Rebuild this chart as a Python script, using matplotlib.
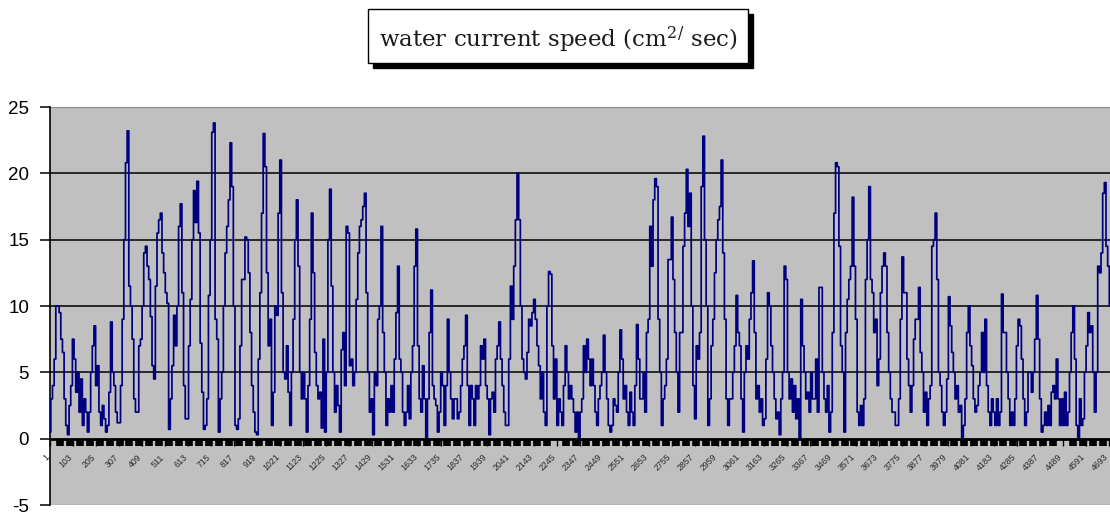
import numpy as np
import matplotlib
matplotlib.use("Agg")
import matplotlib.pyplot as plt
import matplotlib.transforms as mtransforms
from matplotlib.patches import Rectangle
from matplotlib.ticker import FixedLocator, NullFormatter

# ---------------- data (readings taken along the record axis) ----------------
speed_a = [0.5, 3, 4, 6, 10, 10, 9.5, 7.5, 6.5, 3, 1, 0.3, 2.5, 4, 7.5, 6, 3.5, 5, 2, 4.5,
           1, 3, 2, 0.5, 2, 5, 7, 8.5, 4, 5.5, 2, 1, 2.5, 1.5, 0.5, 1, 3.5, 8.8, 5, 4,
           2, 1.2, 1.2, 4, 9, 15, 20.8, 23.2, 11.5, 10, 7.5, 3, 2, 2, 7, 7.5, 10, 14]
speed_b = [14.5, 13, 12, 9.2, 5.5, 4.5, 11.5, 15.5, 16.5, 17, 14, 12.5, 11, 10.2, 0.7, 3,
           5.5, 9.3, 7, 10, 16, 17.7, 11, 4, 1.5, 1.5, 7, 10.5, 15, 18.7, 16.3, 19.4, 15.5,
           7.2, 3.5, 0.7, 1, 3, 10.8, 15, 23.1, 23.8, 9, 7.5, 0.5, 3, 5, 10, 14, 16, 18,
           22.3, 19, 10, 1, 0.7, 1.5, 7, 12]
speed_c = [12, 15.2, 15, 12.5, 8, 4, 2, 0.5, 0.3, 6, 11, 17, 23, 20.5, 12.5, 7, 9, 1, 3.5,
           10, 9.3, 17, 21, 11, 5, 4.5, 7, 3.5, 1, 5, 9, 15, 18, 13, 5, 3, 5, 3, 0.5, 4,
           9, 17, 12.5, 6.5, 4, 3, 3.5, 0.8, 7.5, 0.5, 5, 15, 18.8, 11.5, 5, 2, 4, 2.5, 0.5,
           6.7]
speed_d = [8, 4, 16, 15.5, 5.5, 6, 4, 5, 10.5, 14, 16, 16.5, 17.5, 18.5, 11, 5, 2, 3, 0.3,
           5, 4, 9, 10, 16, 8, 5, 1, 3, 2, 4, 2, 6, 9.5, 13, 6, 5, 2, 1, 2, 4, 1.5, 5, 7,
           13, 15.8, 7, 3, 2, 5.5, 3, 0, 3, 8, 11.2, 4, 3, 2.5, 0.5, 2, 5, 4, 1, 4, 9, 5,
           3, 1.5, 3, 3, 1.5, 2, 4, 6, 7, 9.3, 4, 1, 4, 3, 1, 4, 3, 4, 7, 6, 7.5, 4, 3,
           0.3, 3, 3.5, 2, 6, 7, 8.8, 6, 4, 2, 1, 1, 6, 11.5, 9, 13, 16.5, 20, 16.5, 10, 6,
           5, 4.5, 6.5, 9, 8.5, 9.5, 10.5, 9, 7, 5.5, 3, 5, 2, 1, 10, 12.6, 12.4, 7, 3, 6,
           1, 3, 2, 1, 4, 7, 5, 3]
speed_e = [4, 3, 2, 0.5, 2, 0, 2, 3, 7, 5, 7.5, 6, 4, 6, 4, 2, 1, 3, 4, 5, 7.8, 5, 3, 1,
           0.5, 1, 3, 2.5, 2, 5, 8.2, 6, 3, 4, 2, 1, 3.5, 2, 1, 4, 8.6, 6, 3, 3, 5, 2, 8,
           9, 16, 13, 18, 19.6, 19, 9, 5, 1, 3, 4, 6, 13.5, 13.5, 16.7, 12, 8, 5, 2, 8, 8,
           14.5, 17, 20.3, 16, 18.5, 10, 4, 1.5, 7, 6, 8, 19, 22.8, 15, 10, 1, 3, 7, 9,
           12.5, 15, 16.5, 17.5, 21, 14, 9, 3, 1, 3, 3, 5, 7, 10.8, 8, 7, 3, 0.5, 5, 7, 6,
           9, 11, 13.4, 8, 3, 4, 2, 3, 1, 1.5, 6, 11, 10, 7, 5, 3, 1.5, 2, 0.3, 3, 5, 13,
           12, 5, 3, 4.5, 2, 4, 1.5, 3, 0, 10.5, 7, 5, 3, 3.5, 2, 5, 3, 3, 6, 2, 11.4]
speed_f = [11.4, 5, 3, 2, 4, 0.5, 2, 8, 17, 20.8, 20.5, 14.5, 7, 5, 0.5, 8, 10.5, 12, 13,
           18.2, 13, 9, 2, 1, 2.5, 1, 3, 12, 15, 19, 12, 11, 8, 9, 4, 6, 11, 13, 14, 13, 8,
           5, 3, 2, 2, 1, 1, 3, 9, 13.7, 11, 11, 6, 4, 2, 4, 7.5, 9, 9, 11.4, 6.5, 5, 2,
           3.5, 1, 3, 4, 14.5, 15, 17, 12, 5, 4, 2, 1, 2, 4.5, 10.7, 8.5, 6.5, 5, 3, 4, 2,
           2.5, 0, 1, 3, 8, 10, 7, 5.5, 3, 2, 2.5, 4, 5, 8, 5, 9, 4, 2, 1, 3, 2, 1, 3, 1,
           2, 10.9, 8, 8, 5, 3, 1, 2, 1, 3, 7, 9, 8.5, 6, 3, 1, 2, 5, 5, 3.5, 5, 7.5, 10.8,
           7.5, 3, 0.5, 1, 2, 1, 2.5, 1, 3.5, 4, 3, 6, 3, 1, 3, 1, 3.5, 1, 2, 5, 8, 10, 6,
           1, 0, 3, 1, 1.5, 5, 7, 9.5, 8, 8.5, 5, 2, 5, 13, 12.5, 14, 18.5, 19.3, 14.5, 13,
           10]

SAMPLE_STEP = 7.35                 # records between consecutive readings
tick_records = list(range(1, 4694, 102))
tick_labels = [str(r) for r in tick_records]
y_ticks = [-5, 0, 5, 10, 15, 20, 25]
grid_levels = [5, 10, 15, 20]
title = "water current speed (cm$^{2}$$^{/}$ sec)"

speed = np.array(speed_a + speed_b + speed_c + speed_d + speed_e + speed_f, dtype=float)
records = 1 + SAMPLE_STEP * np.arange(len(speed))

# ---------------- figure ----------------
W, H = 1110, 517
fig = plt.figure(figsize=(W / 100, H / 100), dpi=100)
fig.patch.set_facecolor("white")

ax = fig.add_axes([50 / W, 12 / H, 1 - 50 / W, 398 / H])
ax.set_facecolor("#C0C0C0")
ax.set_xlim(1, 4697)
ax.set_ylim(-5, 25)

for g in grid_levels:
    ax.axhline(g, color="black", lw=1.1, zorder=1)

ax.plot(records, speed, color="#000080", lw=1.25, drawstyle="steps-mid", zorder=3)

# spines
for s in ["top", "right"]:
    ax.spines[s].set_visible(False)
ax.spines["left"].set_color("black")
ax.spines["left"].set_linewidth(1.2)
ax.spines["bottom"].set_position(("data", 0))
ax.spines["bottom"].set_color("black")
ax.spines["bottom"].set_linewidth(2.0)
ax.spines["bottom"].set_zorder(4)
ax.axhline(25, color="#909090", lw=1.0, zorder=2)
ax.axhline(-5, color="#909090", lw=1.0, zorder=2)

# y axis
ax.set_yticks(y_ticks)
ax.set_yticklabels([str(v) for v in y_ticks], fontsize=13.5, family="Liberation Sans")
ax.tick_params(axis="y", direction="out", length=7, width=1.1, pad=8, colors="black")

# x axis
ax.xaxis.set_major_locator(FixedLocator(tick_records))
ax.set_xticklabels(tick_labels)
minor = list(np.arange(1, 4697, 44))
ax.xaxis.set_minor_locator(FixedLocator(minor))
ax.xaxis.set_minor_formatter(NullFormatter())
ax.tick_params(axis="x", which="minor", direction="out", length=5, width=5.5, color="black")
ax.tick_params(axis="x", which="major", direction="out", length=5, width=1.0, color="black",
               pad=5, labelsize=6.3, labelcolor="#2a2a2a")
shift = mtransforms.ScaledTranslation(-5 / 100, 0, fig.dpi_scale_trans)
for lab in ax.get_xticklabels():
    lab.set_rotation(45)
    lab.set_ha("right")
    lab.set_va("top")
    lab.set_rotation_mode("anchor")
    lab.set_family("Liberation Sans")
    lab.set_transform(lab.get_transform() + shift)

# ---------------- title box with drop shadow ----------------
bx0, by0, bw, bh = 368, 9, 380, 54
fig.patches.append(Rectangle(((bx0 + 5) / W, 1 - (by0 + bh + 5) / H), bw / W, bh / H,
                             transform=fig.transFigure, facecolor="black", edgecolor="black",
                             zorder=5))
fig.patches.append(Rectangle((bx0 / W, 1 - (by0 + bh) / H), bw / W, bh / H,
                             transform=fig.transFigure, facecolor="white", edgecolor="black",
                             lw=1.0, zorder=6))
plt.rcParams["mathtext.fontset"] = "dejavuserif"
fig.text((bx0 + bw / 2) / W, 1 - (by0 + bh / 2 + 4) / H, title, ha="center", va="center",
         fontsize=16.5, family="DejaVu Serif", color="#1a1a1a", zorder=7)

fig.savefig("out.png", dpi=100)
